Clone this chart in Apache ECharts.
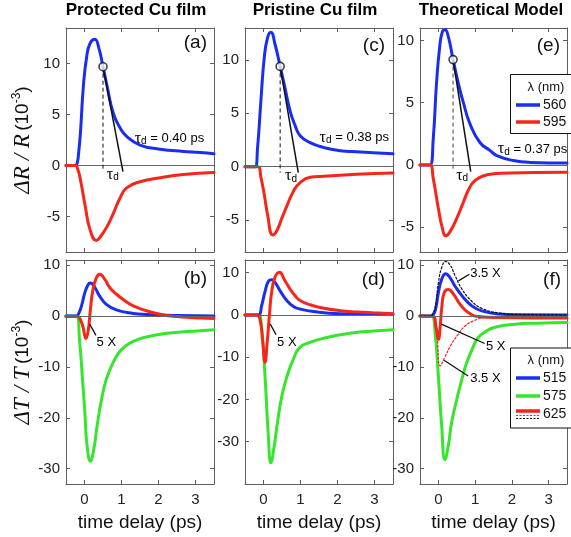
<!DOCTYPE html>
<html><head><meta charset="utf-8">
<script src="https://cdn.jsdelivr.net/npm/echarts@6/dist/echarts.min.js"></script>
<style>html,body{margin:0;padding:0;background:#fff}#c{width:571px;height:537px}</style>
</head><body><div id="c"></div>
<script>
// ---------- tick values ----------
const xTicks = [0, 1, 2, 3];
const yTicksTop = [-5, 0, 5, 10];
const yTicksBottom = [-30, -20, -10, 0, 10];
const columnTitles = ['Protected Cu film', 'Pristine Cu film', 'Theoretical Model'];
const panelLetters = ['(a)', '(c)', '(e)', '(b)', '(d)', '(f)'];
const legendTop = ['560', '595'];
const legendBottom = ['515', '575', '625'];

// ---------- panel (a) ----------
const aBlueT = [-0.5, -0.25, -0.2, -0.16, -0.11, -0.03, 0.06, 0.15, 0.28, 0.39, 0.5, 0.61, 0.78, 0.96, 1.14, 1.5, 2.04, 2.67, 3.13, 3.5];
const aBlueY = [0, 0, 0.2, 1.2, 3.2, 7.8, 10.7, 12.0, 12.4, 11.5, 9.7, 7.8, 5.1, 3.7, 2.85, 2.0, 1.6, 1.38, 1.28, 1.15];
const aRedT = [-0.5, -0.25, -0.18, -0.11, 0.02, 0.15, 0.32, 0.43, 0.61, 0.78, 0.96, 1.14, 1.5, 2.04, 2.67, 3.5];
const aRedY = [0, 0, -0.4, -1.4, -4.0, -6.3, -7.37, -7.0, -6.0, -4.7, -3.2, -2.2, -1.6, -1.2, -0.9, -0.7];
// ---------- panel (c) ----------
const cBlueT = [-0.5, -0.23, -0.16, -0.07, 0.02, 0.11, 0.2, 0.31, 0.45, 0.58, 0.72, 0.86, 0.99, 1.26, 1.62, 2.07, 2.52, 2.97, 3.5];
const cBlueY = [0, 0, 1.8, 6.2, 10.2, 12.1, 12.6, 11.5, 9.4, 7.4, 5.2, 3.8, 2.9, 2.25, 1.8, 1.5, 1.4, 1.3, 1.2];
const cRedT = [-0.5, -0.15, -0.07, 0.02, 0.11, 0.25, 0.36, 0.5, 0.63, 0.81, 0.99, 1.26, 1.62, 2.52, 3.5];
const cRedY = [0, 0, -1.0, -2.6, -4.5, -6.4, -6.0, -4.8, -3.7, -2.3, -1.5, -1.0, -0.9, -0.72, -0.6];
// ---------- panel (e) ----------
const eBlueT = [-0.5, -0.23, -0.14, -0.05, 0.04, 0.11, 0.18, 0.27, 0.4, 0.54, 0.68, 0.86, 1.13, 1.41, 1.59, 2.04, 2.5, 3.5];
const eBlueY = [0, 0, 2.1, 6.6, 9.6, 10.7, 10.85, 10.3, 8.46, 6.6, 5.0, 3.3, 1.8, 1.15, 0.75, 0.35, 0.2, 0.15];
const eRedT = [-0.5, -0.23, -0.14, 0, 0.11, 0.2, 0.31, 0.5, 0.68, 0.82, 0.95, 1.13, 1.32, 1.68, 3.5];
const eRedY = [0, 0, -1.1, -3.5, -5.1, -5.7, -5.4, -4.3, -3.0, -2.0, -1.4, -1.0, -0.8, -0.67, -0.6];
// ---------- panel (b) ----------
const bBlueT = [-0.5, -0.22, -0.15, -0.08, 0.01, 0.1, 0.16, 0.28, 0.41, 0.59, 0.86, 1.32, 1.68, 2.5, 3.5];
const bBlueY = [0, 0, 0.6, 2.0, 4.6, 6.2, 6.5, 5.6, 3.9, 2.3, 1.2, 0.5, 0.3, 0.1, 0];
const bRedT = [-0.5, -0.2, -0.14, -0.05, 0.04, 0.1, 0.16, 0.23, 0.32, 0.41, 0.55, 0.68, 0.86, 1.09, 1.32, 1.6, 1.87, 2.14, 2.5, 2.86, 3.14, 3.5];
const bRedY = [-0.1, -0.1, -0.3, -1.9, -4.4, -2.9, 1.3, 5.2, 7.5, 8.2, 7.2, 5.6, 4.3, 3.0, 2.0, 1.2, 0.65, 0.2, -0.1, -0.3, -0.4, -0.5];
const bGreenT = [-0.5, -0.22, -0.13, -0.06, 0.01, 0.07, 0.16, 0.25, 0.34, 0.46, 0.59, 0.77, 1.0, 1.32, 1.68, 2.23, 2.68, 3.14, 3.5];
const bGreenY = [0, 0, -5.2, -11.8, -19, -25.5, -28.5, -26.2, -21.6, -16.4, -12.4, -9.2, -6.6, -5.0, -4.1, -3.4, -3.1, -2.9, -2.7];
// ---------- panel (d) ----------
const dBlueT = [-0.5, -0.14, -0.05, 0.04, 0.13, 0.22, 0.31, 0.45, 0.63, 0.81, 0.99, 1.35, 2.07, 3.5];
const dBlueY = [0, 0, 2.2, 5.5, 7.9, 8.3, 7.7, 5.7, 3.4, 2.0, 1.4, 0.8, 0.3, 0.15];
const dRedT = [-0.5, -0.18, -0.09, -0.02, 0.04, 0.1, 0.16, 0.22, 0.31, 0.43, 0.58, 0.72, 0.86, 0.99, 1.26, 1.63, 2.08, 2.53, 2.97, 3.5];
const dRedY = [0, 0, -1.3, -6.4, -11.2, -6.4, 0, 5.4, 8.9, 10.1, 8.1, 6.1, 4.5, 3.4, 2.4, 1.6, 1.0, 0.7, 0.5, 0.3];
const dGreenT = [-0.5, -0.14, -0.05, 0.04, 0.13, 0.2, 0.28, 0.38, 0.5, 0.63, 0.81, 0.99, 1.26, 1.63, 2.08, 2.53, 2.97, 3.5];
const dGreenY = [0, 0, -3.3, -14.3, -28.5, -35, -31.6, -25.3, -19, -14.7, -10.4, -7.6, -6.5, -5.5, -4.7, -4.1, -3.8, -3.5];
// ---------- panel (f) ----------
const fBlueT = [-0.5, -0.23, -0.14, -0.07, 0, 0.09, 0.2, 0.32, 0.45, 0.64, 0.91, 1.18, 1.64, 2.2, 3.5];
const fBlueY = [0, 0, 0.3, 1.5, 4.6, 7.2, 8.3, 7.5, 5.9, 4.0, 2.0, 1.0, 0.4, 0.25, 0.2];
const fBlackDotT = [-0.5, -0.23, -0.14, -0.07, 0, 0.09, 0.2, 0.32, 0.45, 0.64, 0.91, 1.18, 1.64, 2.2, 3.5];
const fBlackDotY = [0, 0, 0.5, 2.5, 6.5, 9.5, 10.7, 10.0, 8.0, 5.3, 2.9, 1.5, 0.6, 0.3, 0.2];
const fRedT = [-0.5, -0.14, -0.07, 0, 0.05, 0.09, 0.16, 0.27, 0.41, 0.59, 0.82, 1.09, 1.64, 3.5];
const fRedY = [0, -0.1, -1.95, -4.6, -2.0, 1.5, 4.6, 5.2, 4.3, 2.3, 0.65, -0.1, -0.3, -0.4];
const fRedDotT = [-0.5, -0.12, -0.04, 0.05, 0.17, 0.35, 0.54, 0.72, 0.99, 1.26, 1.8, 3.5];
const fRedDotY = [0, 0, -3.5, -9.8, -8.2, -5.6, -3.6, -2.0, -0.85, -0.3, -0.1, 0];
const fGreenT = [-0.5, -0.18, -0.09, 0, 0.09, 0.18, 0.27, 0.36, 0.5, 0.64, 0.77, 0.95, 1.08, 1.3, 1.54, 2.08, 2.7, 3.5];
const fGreenY = [0, 0, -3.3, -11.8, -21.6, -28.2, -25.5, -20.9, -16.4, -12.4, -9.2, -6.0, -4.3, -3.0, -2.2, -1.6, -1.4, -1.3];

// ---------- annotations (data coordinates) ----------
const tauPointsT = [0.5, 0.45, 0.40];          // circles on (a), (c), (e)
const tauPointsY = [9.7, 9.4, 8.46];
const tauEndT = [1.04, 0.94, 0.88];            // tangent ends
const tauEndY = [-0.6, -0.56, -0.54];
const tauSymT = [0.78, 0.76, 0.66];
const tauSymY = [-0.95, -0.9, -0.9];
const tauValues = ['0.40', '0.38', '0.37'];
const tauTextT = [1.37, 1.53, 1.63];
const tauTextY = [2.6, 2.7, 1.23];

const BLUE = '#1a2ef2', RED = '#f7251a', GREEN = '#35e62c';
const FONT = 'Liberation Sans, Arial, Helvetica, sans-serif';
const SERIF = 'Liberation Serif, Times New Roman, serif';

const gridPos = [
  {left: 66, top: 28, width: 148}, {left: 245, top: 28, width: 148}, {left: 420, top: 28, width: 147},
  {left: 66, top: 260, width: 148}, {left: 245, top: 260, width: 148}, {left: 420, top: 260, width: 147}
];
const yRanges = [[-8.5, 13.5], [-8, 13], [-7, 11], [-33, 11], [-40, 13], [-33, 11]];

const pts = (t, y) => t.map((v, i) => [v, y[i]]);
const FRAME = '#5e5e5e';

const grids = [], xAxes = [], yAxes = [], series = [];
const yNameRich = {
  i: {fontFamily: SERIF, fontStyle: 'italic', fontSize: 23, color: '#111'},
  n: {fontFamily: FONT, fontSize: 19, color: '#111'},
  p: {fontFamily: FONT, fontSize: 12, color: '#111', verticalAlign: 'top'}
};
gridPos.forEach((g, k) => {
  const bottomRow = k >= 3;
  grids.push({left: g.left, top: g.top, width: g.width, height: 224, containLabel: false, outerBoundsMode: 'none'});
  const yt = bottomRow ? yTicksBottom : yTicksTop;
  const tick = vals => ({show: true, inside: true, length: 4, customValues: vals, lineStyle: {color: FRAME, width: 1}});
  const line = {show: true, onZero: false, lineStyle: {color: FRAME, width: 1}};
  xAxes.push({
    gridIndex: k, type: 'value', min: -0.5, max: 3.5, position: 'bottom',
    axisLine: line, axisTick: tick(xTicks), splitLine: {show: false},
    axisLabel: {show: bottomRow, customValues: xTicks, fontSize: 15, color: '#222', fontFamily: FONT, margin: 8},
    name: bottomRow ? 'time delay (ps)' : '', nameLocation: 'middle', nameGap: 29,
    nameTextStyle: {fontSize: 19, color: '#111', fontFamily: FONT}
  });
  xAxes.push({
    gridIndex: k, type: 'value', min: -0.5, max: 3.5, position: 'top',
    axisLine: line, axisTick: tick(xTicks), splitLine: {show: false}, axisLabel: {show: false}
  });
  let yname = '';
  if (k === 0) yname = '{i|ΔR / R} {n|(10}{p|-3}{n|)}';
  if (k === 3) yname = '{i|ΔT / T} {n|(10}{p|-3}{n|)}';
  yAxes.push({
    gridIndex: k, type: 'value', min: yRanges[k][0], max: yRanges[k][1], position: 'left',
    axisLine: line, axisTick: tick(yt), splitLine: {show: false},
    axisLabel: {show: true, customValues: yt, fontSize: 15, color: '#222', fontFamily: FONT, margin: 6},
    name: yname, nameLocation: 'middle', nameGap: 32, nameRotate: 90,
    nameTextStyle: {rich: yNameRich}
  });
  yAxes.push({
    gridIndex: k, type: 'value', min: yRanges[k][0], max: yRanges[k][1], position: 'right',
    axisLine: line, axisTick: tick(yt), splitLine: {show: false}, axisLabel: {show: false}
  });
  // zero reference line
  series.push({
    type: 'line', xAxisIndex: 2 * k, yAxisIndex: 2 * k, data: [], silent: true, z: 1,
    markLine: {silent: true, symbol: 'none', animation: false, label: {show: false},
      lineStyle: {color: '#666', width: 1, type: 'solid'}, data: [{yAxis: 0}]}
  });
});

function curve(k, t, y, color, width, type) {
  series.push({
    type: 'line', xAxisIndex: 2 * k, yAxisIndex: 2 * k, data: pts(t, y),
    smooth: 0.5, symbol: 'none', silent: true, z: 3,
    lineStyle: {color: color, width: width || 3, type: type || 'solid', cap: 'round', join: 'round'},
    itemStyle: {color: color}
  });
}
function seg(k, t, y, color, width, type) {
  series.push({
    type: 'line', xAxisIndex: 2 * k, yAxisIndex: 2 * k, data: pts(t, y),
    symbol: 'none', silent: true, z: 5,
    lineStyle: {color: color, width: width, type: type || 'solid'}
  });
}
function label(k, t, y, text, align, rich, size) {
  series.push({
    type: 'scatter', xAxisIndex: 2 * k, yAxisIndex: 2 * k, data: [[t, y]],
    symbol: 'circle', symbolSize: 1, itemStyle: {color: '#fff', opacity: 0}, silent: true, z: 6,
    label: {show: true, position: [0, 0], align: align, verticalAlign: 'middle', opacity: 1,
      formatter: text, fontSize: size || 13, fontFamily: FONT, color: '#000', rich: rich || {}}
  });
}

// data curves
curve(0, aBlueT, aBlueY, BLUE); curve(0, aRedT, aRedY, RED);
curve(1, cBlueT, cBlueY, BLUE); curve(1, cRedT, cRedY, RED);
curve(2, eBlueT, eBlueY, BLUE); curve(2, eRedT, eRedY, RED);
curve(3, bGreenT, bGreenY, GREEN); curve(3, bBlueT, bBlueY, BLUE); curve(3, bRedT, bRedY, RED);
curve(4, dGreenT, dGreenY, GREEN); curve(4, dBlueT, dBlueY, BLUE); curve(4, dRedT, dRedY, RED);
curve(5, fGreenT, fGreenY, GREEN); curve(5, fBlueT, fBlueY, BLUE); curve(5, fRedT, fRedY, RED);
curve(5, fRedDotT, fRedDotY, RED, 1.2, [2, 2]);
curve(5, fBlackDotT, fBlackDotY, '#111', 1.2, [2, 2]);

// tau_d constructions
const tauRich = {
  t: {fontFamily: SERIF, fontSize: 16, color: '#000'},
  s: {fontFamily: FONT, fontSize: 10, color: '#000', verticalAlign: 'bottom'},
  v: {fontFamily: FONT, fontSize: 13, color: '#000'}
};
for (let k = 0; k < 3; k++) {
  seg(k, [tauPointsT[k], tauPointsT[k]], [tauPointsY[k], tauEndY[k]], k === 2 ? '#444' : '#111', 1, [4, 3]);
  seg(k, [tauPointsT[k], tauEndT[k]], [tauPointsY[k], tauEndY[k]], '#111', 1.5);
  series.push({
    type: 'scatter', xAxisIndex: 2 * k, yAxisIndex: 2 * k, data: [[tauPointsT[k], tauPointsY[k]]],
    symbol: 'circle', symbolSize: 8, silent: true, z: 7,
    itemStyle: {color: '#fff', borderColor: '#111', borderWidth: 1.6}
  });
  label(k, tauSymT[k], tauSymY[k], '{t|τ}{s|d}', 'center', tauRich);
  label(k, tauTextT[k], tauTextY[k], '{t|τ}{s|d}{v| = ' + tauValues[k] + ' ps}', 'left', tauRich);
}

// scale-factor annotations
seg(3, [0.14, 0.31], [-1.6, -3.8], '#111', 1.3);
label(3, 0.34, -5.3, '5 X', 'left');
seg(4, [0.18, 0.34], [-2.1, -4.7], '#111', 1.3);
label(4, 0.38, -6.7, '5 X', 'left');
seg(5, [0.545, 0.845], [6.9, 8.2], '#111', 1.3);
label(5, 0.88, 8.3, '3.5 X', 'left');
seg(5, [0.08, 1.26], [-1.6, -5.4], '#111', 1.3);
label(5, 1.31, -6.1, '5 X', 'left');
seg(5, [0.155, 0.81], [-8.7, -11.8], '#111', 1.3);
label(5, 0.88, -12.4, '3.5 X', 'left');

// ---------- layout graphics: titles, panel letters, legends ----------
const titleX = [136, 315, 491];
const letterPos = [[207, 43], [385, 46], [560, 46], [207, 279], [385, 280], [561, 280]];
const graphic = [];
columnTitles.forEach((t, i) => graphic.push({type: 'text', x: titleX[i], y: 10, z: 100,
  style: {text: t, font: 'bold 17px ' + FONT, fill: '#000', textAlign: 'center', textVerticalAlign: 'middle'}}));
panelLetters.forEach((t, i) => graphic.push({type: 'text', x: letterPos[i][0], y: letterPos[i][1], z: 100,
  style: {text: t, font: '19px ' + FONT, fill: '#111', textAlign: 'right', textVerticalAlign: 'middle'}}));

function legendBox(y0, h, items) {
  graphic.push({type: 'rect', z: 100, shape: {x: 510.5, y: y0 + 0.5, width: 70, height: h},
    style: {fill: '#fff', stroke: '#111', lineWidth: 1}});
  graphic.push({type: 'text', z: 101, x: 546, y: y0 + 13,
    style: {text: 'λ (nm)', font: '13px ' + FONT, fill: '#111', textAlign: 'center', textVerticalAlign: 'middle'}});
  items.forEach(it => {
    it.lines.forEach(l => graphic.push({type: 'line', z: 101,
      shape: {x1: 516, y1: l.y, x2: 540, y2: l.y},
      style: {stroke: l.c, lineWidth: l.w, lineDash: l.d || null}}));
    graphic.push({type: 'text', z: 101, x: 543, y: it.ty,
      style: {text: it.label, font: '14px ' + FONT, fill: '#111', textAlign: 'left', textVerticalAlign: 'middle'}});
  });
}
legendBox(74, 59, [
  {label: legendTop[0], ty: 105, lines: [{y: 105, c: BLUE, w: 3.5}]},
  {label: legendTop[1], ty: 122, lines: [{y: 122, c: RED, w: 3.5}]}
]);
legendBox(347.5, 80, [
  {label: legendBottom[0], ty: 378, lines: [{y: 378, c: BLUE, w: 3.5}]},
  {label: legendBottom[1], ty: 396, lines: [{y: 396, c: GREEN, w: 3.5}]},
  {label: legendBottom[2], ty: 414, lines: [{y: 411, c: RED, w: 3.5}, {y: 415.5, c: RED, w: 1.2, d: [2, 1.5]}, {y: 418.5, c: '#111', w: 1.2, d: [2, 1.5]}]}
]);

const chart = echarts.init(document.getElementById('c'), null, {renderer: 'canvas'});
chart.setOption({
  animation: false,
  backgroundColor: '#fff',
  grid: grids, xAxis: xAxes, yAxis: yAxes, series: series, graphic: graphic
});
</script></body></html>
